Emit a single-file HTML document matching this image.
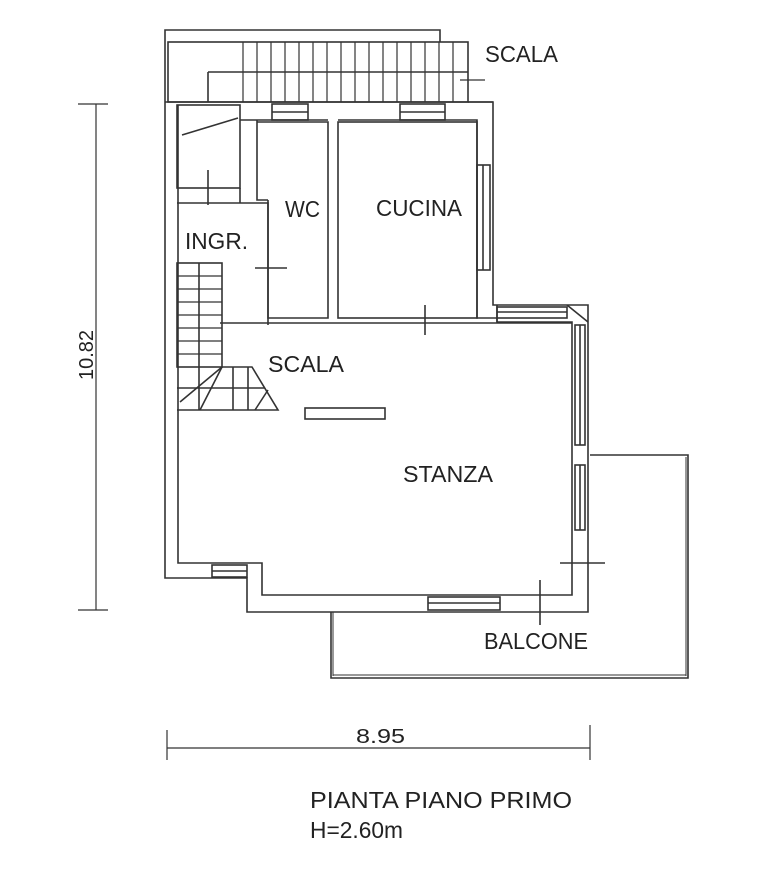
<!DOCTYPE html>
<html><head><meta charset="utf-8"><style>
html,body{margin:0;padding:0;background:#fff;}
svg{display:block}
text{font-family:"Liberation Sans","DejaVu Sans",sans-serif;fill:#222;}
</style></head><body>
<svg width="784" height="872" viewBox="0 0 784 872" xmlns="http://www.w3.org/2000/svg">
<g fill="none" stroke="#333" stroke-width="1.6">
<polyline points="165,103 165,30 440,30 440,42"/>
<rect x="168" y="42" width="300" height="60"/>
<line x1="208" y1="72" x2="468" y2="72"/>
<line x1="208" y1="72" x2="208" y2="102"/>
<g stroke-width="1.2">
<line x1="243" y1="42" x2="243" y2="102"/><line x1="257" y1="42" x2="257" y2="102"/>
<line x1="271" y1="42" x2="271" y2="102"/><line x1="285" y1="42" x2="285" y2="102"/>
<line x1="299" y1="42" x2="299" y2="102"/><line x1="313" y1="42" x2="313" y2="102"/>
<line x1="327" y1="42" x2="327" y2="102"/><line x1="341" y1="42" x2="341" y2="102"/>
<line x1="355" y1="42" x2="355" y2="102"/><line x1="369" y1="42" x2="369" y2="102"/>
<line x1="383" y1="42" x2="383" y2="102"/><line x1="397" y1="42" x2="397" y2="102"/>
<line x1="411" y1="42" x2="411" y2="102"/><line x1="425" y1="42" x2="425" y2="102"/>
<line x1="439" y1="42" x2="439" y2="102"/><line x1="453" y1="42" x2="453" y2="102"/>
<line x1="460" y1="80" x2="485" y2="80"/>
</g>
<polyline points="165,103 165,578 247,578 247,612 588,612 588,305 493,305 493,102 468,102"/>
<line x1="165" y1="102" x2="493" y2="102"/>
<polyline points="178,105 178,563 262,563 262,595 572,595 572,322 497,322 497,318 477,318 477,120 338,120"/>
<line x1="240" y1="120" x2="328" y2="120"/>
<rect x="272" y="104" width="36" height="16"/><line x1="272" y1="112" x2="308" y2="112"/>
<rect x="400" y="104" width="45" height="16"/><line x1="400" y1="112" x2="445" y2="112"/>
<rect x="177" y="105" width="63" height="83"/>
<line x1="182" y1="135" x2="238" y2="118"/>
<line x1="208" y1="170" x2="208" y2="205"/>
<polyline points="177,203 268,203 268,325"/>
<line x1="240" y1="188" x2="240" y2="203"/>
<line x1="255" y1="268" x2="287" y2="268"/>
<polyline points="257,120 257,200 268,200"/>
<polyline points="268,200 268,318 328,318 328,122 257,122"/>
<rect x="338" y="122" width="139" height="196"/>
<line x1="425" y1="305" x2="425" y2="335"/>
<rect x="477" y="165" width="13" height="105"/><line x1="483" y1="165" x2="483" y2="270"/>
<line x1="220" y1="323" x2="572" y2="323"/>
<line x1="497" y1="305" x2="497" y2="322"/>
<rect x="497" y="307" width="70" height="11"/><line x1="497" y1="312" x2="567" y2="312"/>
<line x1="567" y1="305" x2="588" y2="322"/>
<rect x="575" y="325" width="10" height="120"/><line x1="580" y1="325" x2="580" y2="445"/>
<rect x="575" y="465" width="10" height="65"/><line x1="580" y1="465" x2="580" y2="530"/>
<line x1="560" y1="563" x2="605" y2="563"/>
<line x1="540" y1="580" x2="540" y2="625"/>
<rect x="428" y="597" width="72" height="13"/><line x1="428" y1="603" x2="500" y2="603"/>
<rect x="212" y="565" width="35" height="12"/><line x1="212" y1="571" x2="247" y2="571"/>
<rect x="177" y="263" width="45" height="104"/>
<line x1="199" y1="263" x2="199" y2="410"/>
<g stroke-width="1.2">
<line x1="177" y1="276" x2="222" y2="276"/><line x1="177" y1="289" x2="222" y2="289"/>
<line x1="177" y1="302" x2="222" y2="302"/><line x1="177" y1="315" x2="222" y2="315"/>
<line x1="177" y1="328" x2="222" y2="328"/><line x1="177" y1="341" x2="222" y2="341"/>
<line x1="177" y1="354" x2="222" y2="354"/>
</g>
<polyline points="222,367 252,367 278,410 177,410"/>
<line x1="177" y1="388" x2="265" y2="388"/>
<line x1="233" y1="367" x2="233" y2="410"/><line x1="248" y1="367" x2="248" y2="410"/>
<line x1="180" y1="402" x2="222" y2="367"/>
<line x1="200" y1="410" x2="222" y2="367"/>
<line x1="255" y1="410" x2="268" y2="390"/>
<rect x="305" y="408" width="80" height="11"/>
<polyline points="590,455 688,455 688,678 331,678 331,612"/>
<line x1="686" y1="457" x2="686" y2="676" stroke-width="1"/>
<line x1="333" y1="612" x2="333" y2="676" stroke-width="1"/>
<line x1="333" y1="675" x2="686" y2="675" stroke-width="1"/>
<g stroke-width="1.2">
<line x1="96" y1="104" x2="96" y2="610"/>
<line x1="78" y1="104" x2="108" y2="104"/><line x1="78" y1="610" x2="108" y2="610"/>
<line x1="167" y1="748" x2="590" y2="748"/>
<line x1="167" y1="730" x2="167" y2="760"/><line x1="590" y1="725" x2="590" y2="760"/>
</g>
</g>
<g font-size="23" lengthAdjust="spacingAndGlyphs">
<text x="485" y="62" textLength="73" lengthAdjust="spacingAndGlyphs">SCALA</text>
<text x="285" y="217" textLength="35" lengthAdjust="spacingAndGlyphs">WC</text>
<text x="376" y="216" textLength="86" lengthAdjust="spacingAndGlyphs">CUCINA</text>
<text x="185" y="249" textLength="63" lengthAdjust="spacingAndGlyphs">INGR.</text>
<text x="268" y="372" textLength="76" lengthAdjust="spacingAndGlyphs">SCALA</text>
<text x="403" y="482" textLength="90" lengthAdjust="spacingAndGlyphs">STANZA</text>
<text x="484" y="649" textLength="104" lengthAdjust="spacingAndGlyphs">BALCONE</text>
<text x="356" y="743" font-size="20" textLength="49" lengthAdjust="spacingAndGlyphs">8.95</text>
<text transform="translate(93,355) rotate(-90)" text-anchor="middle" font-size="20">10.82</text>
<text x="310" y="808" textLength="262" lengthAdjust="spacingAndGlyphs">PIANTA PIANO PRIMO</text>
<text x="310" y="838" textLength="93" lengthAdjust="spacingAndGlyphs">H=2.60m</text>
</g>
</svg>
</body></html>
